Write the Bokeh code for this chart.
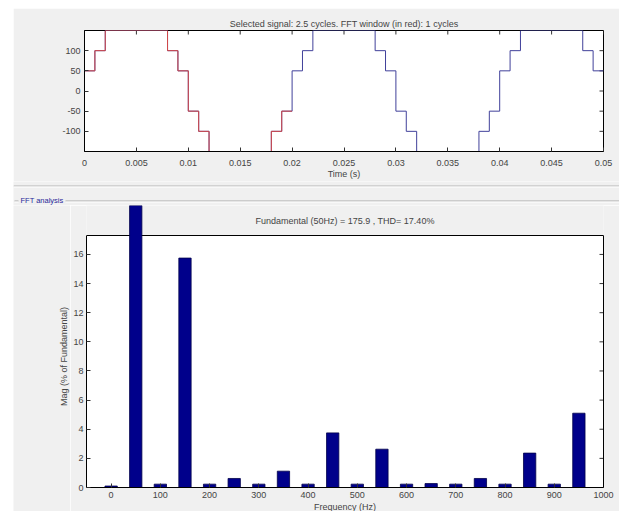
import math

from bokeh.embed import file_html
from bokeh.layouts import column, row
from bokeh.models import (BoxAnnotation, FixedTicker, Label, LinearAxis, Range1d,
                          Spacer, Span)
from bokeh.plotting import figure
from bokeh.resources import INLINE

# ---------------------------------------------------------------- data
# Stepped signal: instants (s) where the level changes, and the new level
initial_level = 0
step_times = [0.0, 0.001, 0.002, 0.008, 0.009, 0.010, 0.011, 0.012, 0.018, 0.019,
              0.020, 0.021, 0.022, 0.028, 0.029, 0.030, 0.031, 0.032, 0.038, 0.039,
              0.040, 0.041, 0.042, 0.048, 0.049]
step_levels = [50, 100, 150, 100, 50, -50, -100, -150, -100, -50,
               50, 100, 150, 100, 50, -50, -100, -150, -100, -50,
               50, 100, 150, 100, 50]
signal_end = 0.05
fft_window_end = 0.02

time_ticks = [0, 0.005, 0.01, 0.015, 0.02, 0.025, 0.03, 0.035, 0.04, 0.045, 0.05]
time_tick_labels = ["0", "0.005", "0.01", "0.015", "0.02", "0.025", "0.03",
                    "0.035", "0.04", "0.045", "0.05"]
signal_ticks = [-100, -50, 0, 50, 100]
signal_tick_labels = ["-100", "-50", "0", "50", "100"]
signal_limits = (-150, 150)

# Harmonic spectrum (% of fundamental)
harmonic_freqs = [0, 50, 100, 150, 200, 250, 300, 350, 400, 450,
                  500, 550, 600, 650, 700, 750, 800, 850, 900, 950]
harmonic_mags = [0.10, 100.0, 0.23, 15.75, 0.23, 0.62, 0.23, 1.12, 0.23, 3.75,
                 0.23, 2.63, 0.23, 0.27, 0.23, 0.62, 0.23, 2.36, 0.23, 5.10]
freq_ticks = [0, 100, 200, 300, 400, 500, 600, 700, 800, 900, 1000]
freq_limits = (-50, 1000)
mag_ticks = [0, 2, 4, 6, 8, 10, 12, 14, 16]
mag_axis_top = 17.3

top_title = "Selected signal: 2.5 cycles. FFT window (in red): 1 cycles"
fft_title = "Fundamental (50Hz) = 175.9 , THD= 17.40%"
mag_label = "Mag (% of Fundamental)"

# ---------------------------------------------------------------- style
FONT = "Liberation Sans"
FONT_SIZE = "9px"
PANEL_BG = "#f0f0f0"
SIG_BLUE = "#40409a"
SIG_RED = "#d44848"
BAR_FILL = "#00008b"
TICK_COLOR = "#333333"
TICK_LEN = 4


def style_axis(ax, ticks, standoff=4):
    ax.ticker = FixedTicker(ticks=ticks)
    ax.major_tick_in = TICK_LEN
    ax.major_tick_out = 0
    ax.minor_tick_line_color = None
    ax.axis_line_color = "black"
    ax.major_tick_line_color = TICK_COLOR
    ax.major_label_text_font = FONT
    ax.major_label_text_font_size = FONT_SIZE
    ax.major_label_standoff = standoff
    ax.axis_label_text_font = FONT
    ax.axis_label_text_font_size = FONT_SIZE
    ax.axis_label_text_font_style = "normal"


def inner_ticks(p, positions, fixed, length, vertical, **kw):
    """Short inward tick marks along a box edge (top or right)."""
    n = len(positions)
    if vertical:
        p.segment(x0=positions, y0=[fixed] * n, x1=positions, y1=[fixed - length] * n,
                  line_color=TICK_COLOR, line_width=1, **kw)
    else:
        p.segment(x0=[fixed] * n, y0=positions, x1=[fixed - length] * n, y1=positions,
                  line_color=TICK_COLOR, line_width=1, **kw)


# ---------------------------------------------------------------- signal plot
top_fw, top_fh = 519, 121
top = figure(frame_width=top_fw, frame_height=top_fh,
             min_border_left=71, min_border_right=16,
             min_border_top=22, min_border_bottom=29, frame_align=False,
             x_range=Range1d(0, signal_end), y_range=Range1d(*signal_limits),
             output_backend="svg", toolbar_location=None,
             background_fill_color="white", border_fill_color=PANEL_BG,
             outline_line_color="black")
top.grid.visible = False
top.title.text = top_title
top.title.align = "center"
top.title.text_font = FONT
top.title.text_font_size = FONT_SIZE
top.title.text_font_style = "normal"
top.title.standoff = 4

style_axis(top.xaxis[0], time_ticks, standoff=8)
top.xaxis[0].major_label_overrides = dict(zip(time_ticks, time_tick_labels))
top.xaxis[0].axis_label = "Time (s)"
top.xaxis[0].axis_label_standoff = 0
style_axis(top.yaxis[0], signal_ticks, standoff=4)
top.yaxis[0].major_label_overrides = dict(zip(signal_ticks, signal_tick_labels))

sig_dx = (signal_end - 0) / top_fw * TICK_LEN
sig_dy = (signal_limits[1] - signal_limits[0]) / top_fh * TICK_LEN
inner_ticks(top, time_ticks, signal_limits[1], sig_dy, vertical=True)
inner_ticks(top, signal_ticks, signal_end, sig_dx, vertical=False)

# whole selected signal
sig_x = [0.0] + step_times + [signal_end]
sig_y = [initial_level] + step_levels + [step_levels[-1]]
top.step(sig_x, sig_y, mode="after", line_color=SIG_BLUE, line_width=1)

# FFT window drawn over it
n_win = sum(1 for t in step_times if t < fft_window_end)
win_x = [0.0] + step_times[:n_win] + [fft_window_end]
win_y = [initial_level] + step_levels[:n_win] + [step_levels[n_win - 1]]
top.step(win_x, win_y, mode="after", line_color=SIG_RED, line_width=1)

# ---------------------------------------------------------------- panel divider
div_w, div_h = 606, 24
divider = figure(width=div_w, height=div_h, min_border=0, frame_align=False,
                 x_range=Range1d(0, div_w), y_range=Range1d(0, div_h),
                 x_axis_type=None, y_axis_type=None,
                 output_backend="svg", toolbar_location=None,
                 background_fill_color=PANEL_BG, border_fill_color=PANEL_BG,
                 outline_line_color=None)
divider.grid.visible = False
divider.segment(x0=[0], y0=[19.5], x1=[div_w], y1=[19.5], line_color="#b4b4b4", line_width=1)
divider.segment(x0=[0], y0=[18.5], x1=[div_w], y1=[18.5], line_color="white", line_width=1)
divider.segment(x0=[1, 52], y0=[4.5, 4.5], x1=[5, div_w], y1=[4.5, 4.5],
                line_color="#a8a8a8", line_width=1)
divider.segment(x0=[1, 52], y0=[3.5, 3.5], x1=[5, div_w], y1=[3.5, 3.5],
                line_color="white", line_width=1)
divider.add_layout(Label(x=7, y=5.5, text="FFT analysis", text_font=FONT,
                         text_font_size="7.5px", text_color="#28289a",
                         text_baseline="middle"))

# ---------------------------------------------------------------- spectrum plot
box_px = 252        # height of the axes box
headroom_px = 30    # space above the box the fundamental bar runs into
fft_fw, fft_fh = 517, box_px + headroom_px
fft_h = fft_fh + 25
y_end = mag_axis_top * fft_fh / box_px

fft = figure(frame_width=fft_fw, frame_height=fft_fh,
             min_border_left=16, min_border_right=16,
             min_border_top=0, min_border_bottom=25, frame_align=False,
             x_range=Range1d(*freq_limits), y_range=Range1d(0, y_end),
             output_backend="svg", toolbar_location=None,
             background_fill_color=PANEL_BG, border_fill_color=PANEL_BG,
             outline_line_color=None)
fft.grid.visible = False

# white axes box below the top edge, panel colour above it
fft.add_layout(BoxAnnotation(bottom=0, top=mag_axis_top, fill_color="white", fill_alpha=1,
                             line_color=None, level="underlay"))
fft.add_layout(Span(location=mag_axis_top, dimension="width", line_color="black",
                    line_width=1, level="underlay"))

style_axis(fft.xaxis[0], freq_ticks, standoff=4)
fft.xaxis[0].axis_label = "Frequency (Hz)"
fft.xaxis[0].axis_label_standoff = 1
style_axis(fft.yaxis[0], mag_ticks, standoff=3)
fft.yaxis[0].bounds = (0, mag_axis_top)
# right edge of the box, ticks drawn separately
right_edge = LinearAxis(bounds=(0, mag_axis_top), ticker=FixedTicker(ticks=[]),
                        axis_line_color="black", major_tick_line_color=None,
                        minor_tick_line_color=None)
fft.add_layout(right_edge, "right")

mag_dx = (freq_limits[1] - freq_limits[0]) / fft_fw * TICK_LEN
mag_dy = y_end / fft_fh * TICK_LEN
inner_ticks(fft, freq_ticks, mag_axis_top, mag_dy, vertical=True, level="underlay")
inner_ticks(fft, mag_ticks, freq_limits[1], mag_dx, vertical=False)

fft.vbar(x=harmonic_freqs, top=harmonic_mags, width=25, bottom=0,
         fill_color=BAR_FILL, line_color="#00004a", line_width=0.8)

fft.add_layout(Label(x=fft_fw / 2, x_units="screen", y=mag_axis_top + 14.6 * y_end / fft_fh,
                     text=fft_title, text_font=FONT, text_font_size=FONT_SIZE,
                     text_align="center", text_baseline="middle"))

# strip left of the spectrum holding its vertical axis title
strip_w = 57
strip = figure(width=strip_w, height=fft_h, min_border=0, frame_align=False,
               x_range=Range1d(0, strip_w), y_range=Range1d(0, fft_h),
               x_axis_type=None, y_axis_type=None,
               output_backend="svg", toolbar_location=None,
               background_fill_color=PANEL_BG, border_fill_color=PANEL_BG,
               outline_line_color=None)
strip.grid.visible = False
strip.add_layout(Label(x=50, y=fft_h - 25 - box_px / 2, text=mag_label,
                       angle=math.pi / 2, text_font=FONT, text_font_size=FONT_SIZE,
                       text_align="center", text_baseline="middle"))

layout = column(Spacer(height=8),
                row(Spacer(width=13), column(top, divider, row(strip, fft))))

open("out.html", "w").write(file_html(layout, INLINE))
